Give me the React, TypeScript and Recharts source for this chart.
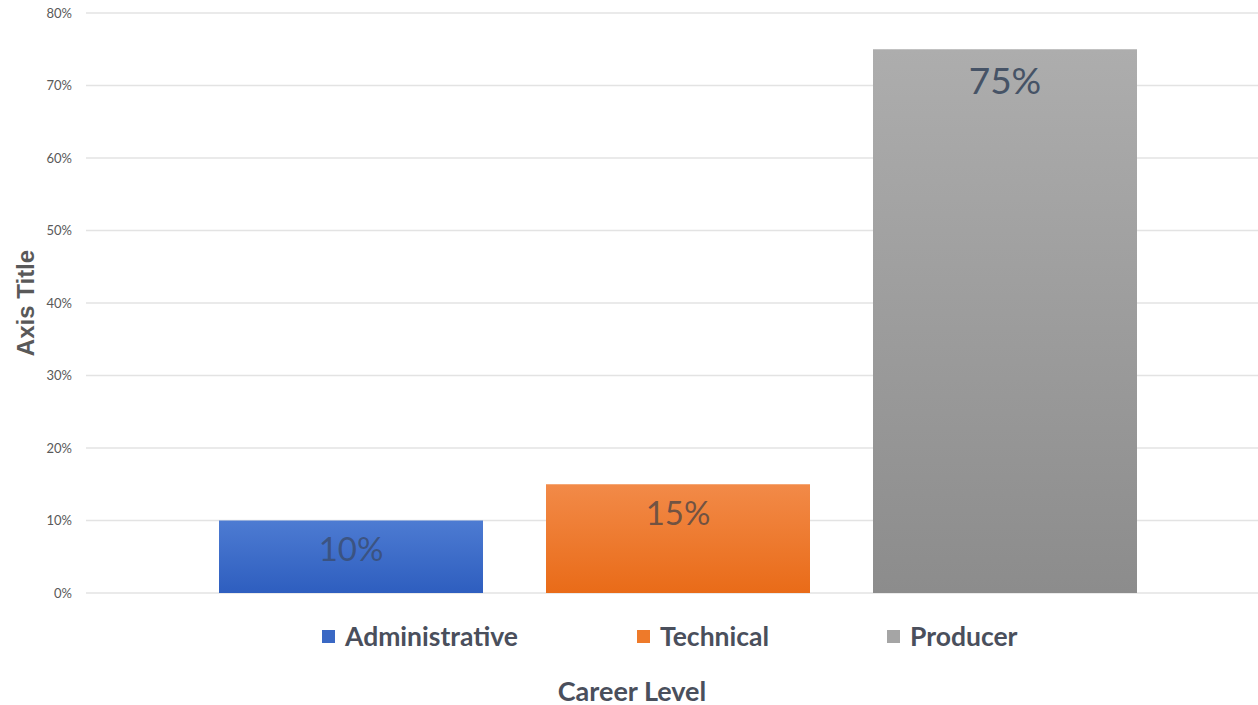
import React from "react";
import { BarChart, Bar, XAxis, YAxis, CartesianGrid, Legend, LabelList, Label } from "recharts";

const categories = ["Career Level"];
const seriesNames = ["Administrative", "Technical", "Producer"];
const adminValues = [0.1];
const technicalValues = [0.15];
const producerValues = [0.75];
const yTicks = [0, 0.1, 0.2, 0.3, 0.4, 0.5, 0.6, 0.7, 0.8];

const data = categories.map((c, i) => ({
  name: c,
  Administrative: adminValues[i],
  Technical: technicalValues[i],
  Producer: producerValues[i],
}));

const legendColors: Record<string, string> = {
  Administrative: "#3a68c4",
  Technical: "#ee7a2a",
  Producer: "#a5a5a5",
};
const legendWidths = [315, 250, 140];

const pct = (v: number) => `${Math.round(v * 100)}%`;

const renderLegend = () => (
  <div style={{ display: "flex", fontFamily: "Lato, sans-serif", fontWeight: 700, fontSize: 26.5, color: "#4a4f5c" }}>
    {seriesNames.map((n, i) => (
      <div key={n} style={{ width: legendWidths[i], display: "flex", alignItems: "center" }}>
        <span style={{ display: "inline-block", width: 13, height: 13, background: legendColors[n], marginRight: 10 }} />
        <span>{n}</span>
      </div>
    ))}
  </div>
);

const YTitle = (props: any) => {
  const vb = props.viewBox || {};
  const cx = 25;
  const cy = vb.y + vb.height / 2;
  return (
    <text
      x={cx}
      y={cy}
      transform={`rotate(-90 ${cx} ${cy})`}
      textAnchor="middle"
      dominantBaseline="central"
      fontFamily="'Liberation Sans', Arial, sans-serif"
      fontWeight={700}
      fontSize={24}
      fill="#595959"
    >
      Axis Title
    </text>
  );
};

const XTitle = () => (
  <text
    x={632}
    y={690}
    textAnchor="middle"
    dominantBaseline="central"
    fontFamily="Lato, sans-serif"
    fontWeight={700}
    fontSize={27}
    fill="#4a4f5c"
  >
    Career Level
  </text>
);

export default function App() {
  return (
    <div style={{ position: "absolute", left: 0, top: 0, width: 1258, height: 705, background: "#fff", overflow: "hidden" }}>
      <BarChart
        width={1258}
        height={705}
        data={data}
        margin={{ top: 13, right: -11, left: 0, bottom: 0 }}
        barSize={264}
        barGap={63}
      >
        <defs>
          <linearGradient id="gBlue" x1="0" y1="0" x2="0" y2="1">
            <stop offset="0%" stopColor="#4d7bd2" />
            <stop offset="100%" stopColor="#2e5ebf" />
          </linearGradient>
          <linearGradient id="gOrange" x1="0" y1="0" x2="0" y2="1">
            <stop offset="0%" stopColor="#f28a48" />
            <stop offset="100%" stopColor="#e96b18" />
          </linearGradient>
          <linearGradient id="gGray" x1="0" y1="0" x2="0" y2="1">
            <stop offset="0%" stopColor="#adadad" />
            <stop offset="100%" stopColor="#8c8c8c" />
          </linearGradient>
        </defs>
        <CartesianGrid vertical={false} stroke="#e3e3e3" strokeWidth={1.5} />
        <XAxis dataKey="name" tick={false} axisLine={false} tickLine={false} height={112}>
          <Label content={<XTitle />} />
        </XAxis>
        <YAxis
          width={86}
          domain={[0, 0.8]}
          ticks={yTicks}
          tickFormatter={pct}
          axisLine={false}
          tickLine={false}
          tickSize={0}
          tickMargin={14}
          tick={{ fontFamily: "Lato, sans-serif", fontSize: 13, fill: "#595959" }}
          interval={0}
        >
          <Label content={<YTitle />} />
        </YAxis>
        <Legend
          verticalAlign="middle"
          align="center"
          layout="horizontal"
          content={renderLegend}
          wrapperStyle={{ top: 620, left: 322, width: 800, height: 32 }}
        />
        <Bar dataKey="Administrative" fill="url(#gBlue)" isAnimationActive={false}>
          <LabelList dataKey="Administrative" position="insideTop" offset={17} formatter={pct}
            style={{ fontFamily: "Lato, sans-serif", fontSize: 33, fill: "#3a4c6e", fillOpacity: 0.8 }} />
        </Bar>
        <Bar dataKey="Technical" fill="url(#gOrange)" isAnimationActive={false}>
          <LabelList dataKey="Technical" position="insideTop" offset={17} formatter={pct}
            style={{ fontFamily: "Lato, sans-serif", fontSize: 33, fill: "#5a4a44", fillOpacity: 0.85 }} />
        </Bar>
        <Bar dataKey="Producer" fill="url(#gGray)" isAnimationActive={false}>
          <LabelList dataKey="Producer" position="insideTop" offset={18} formatter={pct}
            style={{ fontFamily: "Lato, sans-serif", fontSize: 37, fill: "#465366" }} />
        </Bar>
      </BarChart>
    </div>
  );
}
